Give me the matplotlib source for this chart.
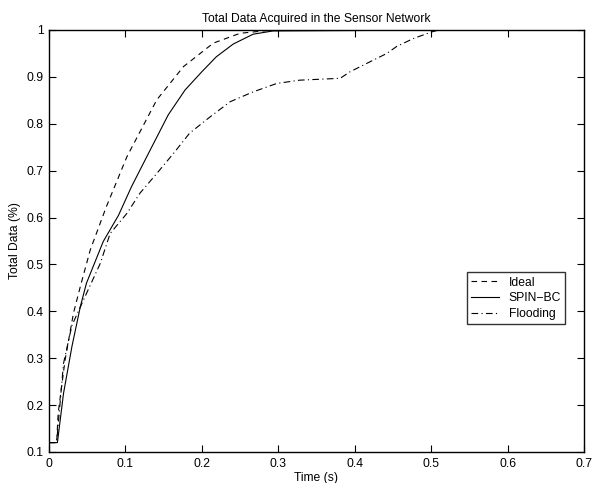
import matplotlib
matplotlib.use("Agg")
import matplotlib.pyplot as plt

ideal_x = [0, 0.01, 0.012, 0.021, 0.032, 0.041, 0.054, 0.075, 0.102, 0.141, 0.176, 0.215, 0.25, 0.293, 0.53]
ideal_y = [0.12, 0.12, 0.183, 0.296, 0.396, 0.453, 0.531, 0.623, 0.730, 0.851, 0.922, 0.972, 0.993, 1.0, 1.0]

spin_x = [0, 0.011, 0.019, 0.030, 0.041, 0.049, 0.071, 0.091, 0.108, 0.128, 0.156, 0.178, 0.2, 0.219, 0.241, 0.267, 0.293, 0.53]
spin_y = [0.12, 0.12, 0.225, 0.325, 0.410, 0.460, 0.549, 0.605, 0.666, 0.730, 0.819, 0.872, 0.911, 0.943, 0.970, 0.991, 0.998, 1.0]

flood_x = [0, 0.01, 0.019, 0.03, 0.049, 0.067, 0.080, 0.102, 0.119, 0.141, 0.163, 0.184, 0.211, 0.237, 0.267, 0.298,
           0.328, 0.381, 0.394, 0.416, 0.442, 0.455, 0.477, 0.501, 0.51, 0.53]
flood_y = [0.12, 0.12, 0.289, 0.37, 0.438, 0.502, 0.566, 0.609, 0.652, 0.694, 0.737, 0.780, 0.815, 0.847, 0.868, 0.886,
           0.893, 0.897, 0.911, 0.929, 0.950, 0.965, 0.982, 0.996, 1.0, 1.0]

xticks = [0, 0.1, 0.2, 0.3, 0.4, 0.5, 0.6, 0.7]
yticks = [0.1, 0.2, 0.3, 0.4, 0.5, 0.6, 0.7, 0.8, 0.9, 1]

plt.rcParams['font.family'] = ['Liberation Sans', 'DejaVu Sans']
fs = 8.7
fig = plt.figure(figsize=(6.01, 4.83), dpi=100)
ax = fig.add_axes([49/601, 31/483, 535/601, 422/483])

ax.plot(ideal_x, ideal_y, color='black', lw=0.8, ls=(0, (5, 4)), label='Ideal')
ax.plot(spin_x, spin_y, color='black', lw=0.8, ls='-', label='SPIN\u2212BC')
ax.plot(flood_x, flood_y, color='black', lw=0.8, ls=(0, (6, 3, 1, 3)), label='Flooding')

ax.set_xlim(0, 0.7)
ax.set_ylim(0.1, 1)
ax.set_xticks(xticks)
ax.set_yticks(yticks)
ax.set_xticklabels(['%g' % v for v in xticks])
ax.set_yticklabels(['%g' % v for v in yticks])
ax.tick_params(direction='in', top=True, right=True, length=5, width=0.8, labelsize=fs, pad=4)
for s in ax.spines.values():
    s.set_linewidth(1.0)

ax.set_title('Total Data Acquired in the Sensor Network', fontsize=fs, pad=6)
ax.set_xlabel('Time (s)', fontsize=fs, labelpad=2)
ax.set_ylabel('Total Data (%)', fontsize=fs, labelpad=4)

leg = ax.legend(loc='lower left', bbox_to_anchor=((467-49)/535, (452-324)/422), fontsize=fs,
                frameon=True, fancybox=False, edgecolor='black', borderpad=0.35, handlelength=2.3,
                labelspacing=0.3, handletextpad=0.8, borderaxespad=0)
leg.get_frame().set_linewidth(1.0)

fig.savefig('out.png', dpi=100)
